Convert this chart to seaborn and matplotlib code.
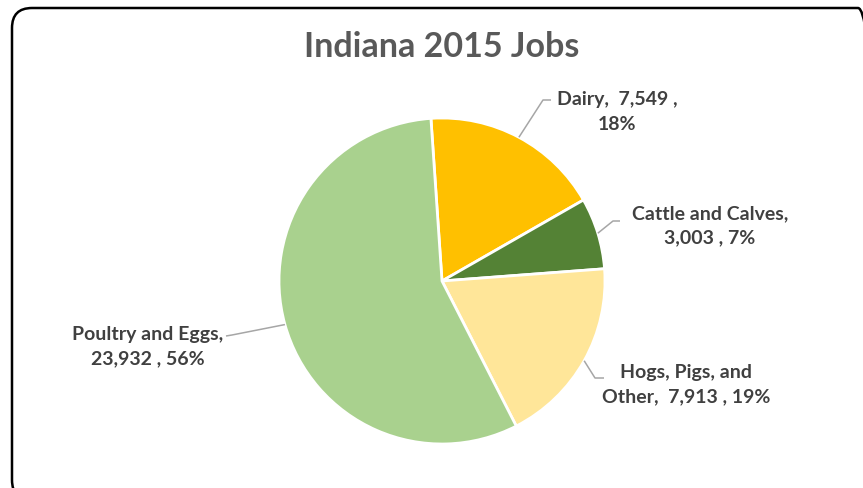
import numpy as np
import pandas as pd
import matplotlib
matplotlib.use("Agg")
import matplotlib.pyplot as plt
import matplotlib.patches as mpatches
import matplotlib.transforms as mtrans
import seaborn as sns

# ---- data ----
categories = ["Dairy", "Cattle and Calves", "Hogs, Pigs, and Other", "Poultry and Eggs"]
jobs = [7549, 3003, 7913, 23932]
title = "Indiana 2015 Jobs"
colors = ["#FFC000", "#548235", "#FFE699", "#A9D18E"]
# label line layouts (text split over two lines as in the reference)
label_templates = [
    "Dairy,  {v} ,\n{p}%",
    "Cattle and Calves,\n{v} , {p}%",
    "Hogs, Pigs, and\nOther,  {v} , {p}%",
    "Poultry and Eggs,\n{v} , {p}%",
]

df = pd.DataFrame({"category": categories, "jobs": jobs})
total = df["jobs"].sum()
df["pct"] = (df["jobs"] / total * 100).round().astype(int)

sns.set_theme(style="white")
plt.rcParams["font.family"] = ["Lato", "DejaVu Sans"]

W, H = 863, 489
fig = plt.figure(figsize=(W / 100, H / 100), dpi=100)
fig.patch.set_facecolor("white")

# pie axes placed in pixel layout
cx, cy, R = 442, 282, 163
ax = fig.add_axes([(cx - R) / W, (H - cy - R) / H, 2 * R / W, 2 * R / H])
wedges, _ = ax.pie(df["jobs"], colors=colors, startangle=93.9, counterclock=False,
                   radius=1.0, wedgeprops=dict(edgecolor="white", linewidth=2))
ax.set_xlim(-1, 1)
ax.set_ylim(-1, 1)
ax.set_aspect("equal")
ax.axis("off")

def px2d(x, y):
    return (x - cx) / R, (cy - y) / R

# label layout in pixels: text centre, elbow, line end
label_pos = [(617, 112), (710, 226), (686, 385), (148, 347)]
elbows = [((543, 101), (551, 101)), ((613, 222), (620, 222)),
          ((595, 379), (604, 379)), ((232, 336), (226, 337))]

for i, w in enumerate(wedges):
    mid = np.deg2rad((w.theta1 + w.theta2) / 2)
    sx, sy = np.cos(mid), np.sin(mid)
    (ex, ey), (fx, fy) = elbows[i]
    e = px2d(ex, ey)
    f = px2d(fx, fy)
    ax.plot([sx, e[0], f[0]], [sy, e[1], f[1]], color="#A6A6A6", lw=1.1,
            clip_on=False, solid_capstyle="butt")
    txt = label_templates[i].format(v=f"{df['jobs'][i]:,}", p=df["pct"][i])
    tx, ty = px2d(*label_pos[i])
    ax.text(tx, ty, txt, ha="center", va="center", multialignment="center",
            fontsize=14, fontweight="bold", color="#404040", linespacing=1.5,
            clip_on=False)

fig.text(442 / W, 1 - 47 / H, title, ha="center", va="center",
         fontsize=24.5, fontweight="bold", color="#595959")

# rounded border (extends off the right and bottom edges)
border = mpatches.FancyBboxPatch((12, -12), 866, 492,
                                 boxstyle="round,pad=0,rounding_size=20",
                                 transform=mtrans.IdentityTransform(),
                                 facecolor="none", edgecolor="black", lw=1.8,
                                 clip_on=False)
fig.patches.append(border)

fig.savefig("out.png", dpi=100, facecolor="white")
